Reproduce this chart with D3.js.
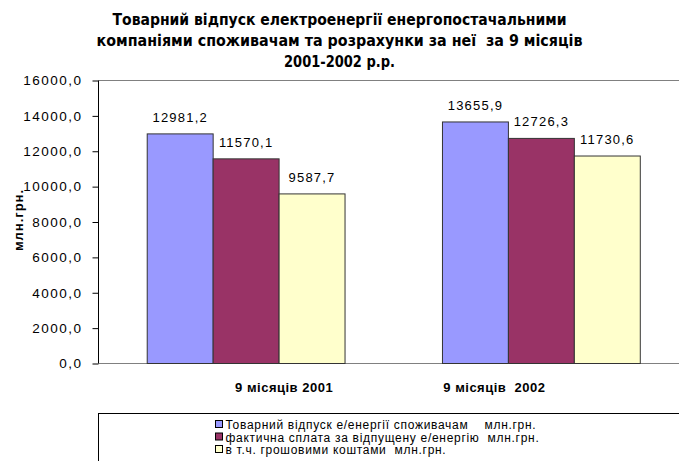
<!DOCTYPE html>
<html>
<head>
<meta charset="utf-8">
<script src="https://cdn.jsdelivr.net/npm/d3@7"></script>
<style>
  body { margin: 0; background: #fff; }
  text { white-space: pre; }
</style>
</head>
<body>
<svg id="chart"></svg>
<script>
// data
const titleLines = [
  "Товарний відпуск електроенергії енергопостачальними",
  "компаніями споживачам та розрахунки за неї  за 9 місяців",
  "2001-2002 р.р."
];
const categories = ["9 місяців 2001", "9 місяців  2002"];
const seriesNames = [
  "Товарний відпуск е/енергії споживачам    млн.грн.",
  "фактична сплата за відпущену е/енергію  млн.грн.",
  "в т.ч. грошовими коштами  млн.грн."
];
const supplyValues = [12981.2, 13655.9];
const paidValues = [11570.1, 12726.3];
const cashValues = [9587.7, 11730.6];
const yTicks = [0, 2000, 4000, 6000, 8000, 10000, 12000, 14000, 16000];
const yLabel = "млн.грн.";

const colors = ["#9999FF", "#993366", "#FFFFCC"];
const W = 679, H = 461;
const margin = { top: 80.5, left: 98.5, right: -10, bottom: 97.5 };
const font = "'Liberation Sans', Arial, sans-serif";

const svg = d3.select("#chart").attr("width", W).attr("height", H);
svg.append("rect").attr("width", W).attr("height", H).attr("fill", "#fff");

const series = [supplyValues, paidValues, cashValues];
const fmt = v => d3.format(".1f")(v).replace(".", ",");

// title
const titleWidths = [454, 486, 111];
svg.append("g").selectAll("text")
  .data(titleLines)
  .enter().append("text")
  .attr("x", W / 2)
  .attr("y", (d, i) => 25 + i * 21)
  .attr("text-anchor", "middle")
  .attr("font-family", "'Liberation Sans Narrow', 'DejaVu Sans Condensed', Arial, sans-serif")
  .attr("font-weight", "bold")
  .attr("font-size", 16)
  .attr("textLength", (d, i) => titleWidths[i])
  .attr("lengthAdjust", "spacingAndGlyphs")
  .text(d => d);

const x0 = d3.scaleBand()
  .domain(categories)
  .range([margin.left, W - margin.right])
  .paddingInner(0.33)
  .paddingOuter(0.165);

const x1 = d3.scaleBand()
  .domain(d3.range(series.length))
  .range([0, x0.bandwidth()]);

const y = d3.scaleLinear()
  .domain([0, 16000])
  .range([H - margin.bottom, margin.top]);

// plot border lines (top and bottom grey)
svg.append("line")
  .attr("x1", margin.left).attr("x2", W)
  .attr("y1", y(16000)).attr("y2", y(16000))
  .attr("stroke", "#808080");
svg.append("line")
  .attr("x1", margin.left).attr("x2", W)
  .attr("y1", y(0)).attr("y2", y(0))
  .attr("stroke", "#808080");

// bars
const groups = svg.append("g").selectAll("g")
  .data(categories)
  .enter().append("g")
  .attr("transform", d => "translate(" + x0(d) + ",0)");

groups.selectAll("rect")
  .data((d, ci) => series.map((s, si) => ({ si: si, v: s[ci] })))
  .enter().append("rect")
  .attr("x", d => x1(d.si))
  .attr("y", d => y(d.v))
  .attr("width", x1.bandwidth())
  .attr("height", d => y(0) - y(d.v))
  .attr("fill", d => colors[d.si])
  .attr("stroke", "#333")
  .attr("stroke-width", 1);

groups.selectAll("text.val")
  .data((d, ci) => series.map((s, si) => ({ si: si, v: s[ci] })))
  .enter().append("text")
  .attr("class", "val")
  .attr("x", d => x1(d.si) + x1.bandwidth() / 2)
  .attr("y", d => y(d.v) - 12)
  .attr("text-anchor", "middle")
  .attr("font-family", font)
  .attr("font-size", 13)
  .attr("letter-spacing", 1.2)
  .text(d => fmt(d.v));

// y axis
const yAxis = svg.append("g")
  .attr("transform", "translate(" + margin.left + ",0)")
  .call(d3.axisLeft(y).tickValues(yTicks).tickFormat(fmt).tickSize(6).tickPadding(10));
yAxis.select(".domain").attr("stroke", "#000").attr("d", "M0," + y(16000) + "V" + y(0));
yAxis.selectAll(".tick line").attr("stroke", "#000");
yAxis.selectAll(".tick text")
  .attr("font-family", font)
  .attr("font-size", 13.5)
  .attr("letter-spacing", 1.5)
  .attr("fill", "#000");

svg.append("text")
  .attr("transform", "translate(23," + ((y(0) + y(16000)) / 2 - 2) + ") rotate(-90)")
  .attr("text-anchor", "middle")
  .attr("font-family", font)
  .attr("font-weight", "bold")
  .attr("font-size", 13)
  .attr("letter-spacing", 1)
  .text(yLabel);

// category labels (offset as in the original)
const catOffsets = [38, -47];
svg.append("g").selectAll("text")
  .data(categories)
  .enter().append("text")
  .attr("x", (d, i) => x0(d) + x0.bandwidth() / 2 + catOffsets[i])
  .attr("y", 392)
  .attr("text-anchor", "middle")
  .attr("font-family", font)
  .attr("font-weight", "bold")
  .attr("font-size", 13)
  .attr("letter-spacing", 0.5)
  .text(d => d);

// legend
const legend = svg.append("g");
legend.append("rect")
  .attr("x", 98.5).attr("y", 413.5)
  .attr("width", 620).attr("height", 80)
  .attr("fill", "#fff").attr("stroke", "#000");
const rows = legend.selectAll("g")
  .data(seriesNames)
  .enter().append("g")
  .attr("transform", (d, i) => "translate(215.5," + (420.5 + i * 12.5) + ")");
rows.append("rect")
  .attr("width", 7).attr("height", 7)
  .attr("fill", (d, i) => colors[i])
  .attr("stroke", "#000");
rows.append("text")
  .attr("x", 10)
  .attr("y", 8.5)
  .attr("font-family", font)
  .attr("font-size", 12)
  .attr("letter-spacing", 0.7)
  .text(d => d);
</script>
</body>
</html>
